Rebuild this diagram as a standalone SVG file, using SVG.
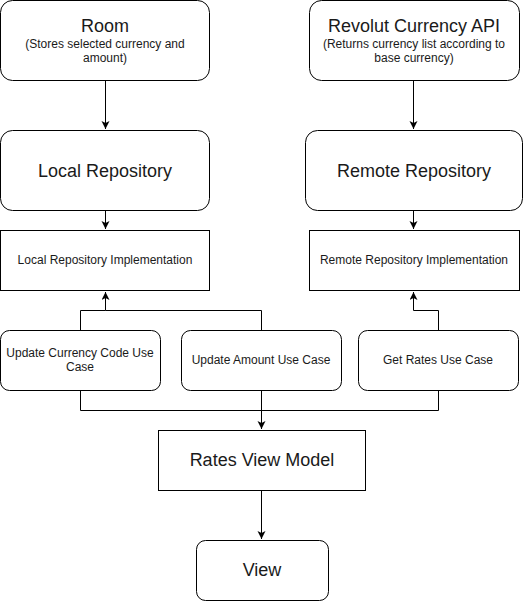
<svg xmlns="http://www.w3.org/2000/svg" width="525" height="602" viewBox="0 0 525 602">
<style>
.box{fill:#fff;stroke:#000;stroke-width:1}
.t{font-family:"Liberation Sans",Arial,sans-serif;fill:#1a1a1a;text-anchor:middle}
.big{font-size:18px}
.sm{font-size:12px}
.c{fill:none;stroke:#000;stroke-width:1}
</style>
<defs>
<marker id="ah" markerUnits="userSpaceOnUse" markerWidth="10" markerHeight="10" refX="8" refY="4" orient="auto">
<path d="M0,0 L8,4 L0,8 L2,4 z" fill="#000"/>
</marker>
</defs>
<rect width="525" height="602" fill="#fff"/>
<g id="connectors">
<path class="c" d="M105.5 80.5 V129" marker-end="url(#ah)"/>
<path class="c" d="M413.5 80.5 V129" marker-end="url(#ah)"/>
<path class="c" d="M105.5 210.5 V229" marker-end="url(#ah)"/>
<path class="c" d="M413.5 210.5 V229" marker-end="url(#ah)"/>
<path class="c" d="M80.5 330.5 V310.5 H105.5 V292" marker-end="url(#ah)"/>
<path class="c" d="M261.5 330.5 V310.5 H105.5"/>
<path class="c" d="M438.5 330.5 V310.5 H413.5 V292" marker-end="url(#ah)"/>
<path class="c" d="M80.5 390.5 V410.5 H261.5"/>
<path class="c" d="M438.5 390.5 V410.5 H261.5"/>
<path class="c" d="M261.5 390.5 V429" marker-end="url(#ah)"/>
<path class="c" d="M261.5 490.5 V539" marker-end="url(#ah)"/>
</g>
<g id="room">
<rect class="box" x="0.5" y="0.5" width="209" height="80" rx="12"/>
<text class="t big" x="105" y="32">Room</text>
<text class="t sm" x="105" y="48">(Stores selected currency and</text>
<text class="t sm" x="105" y="62">amount)</text>
</g>
<g id="revolut">
<rect class="box" x="309.5" y="0.5" width="210" height="80" rx="12"/>
<text class="t big" x="414" y="32">Revolut Currency API</text>
<text class="t sm" x="414" y="48">(Returns currency list according to</text>
<text class="t sm" x="414" y="62">base currency)</text>
</g>
<g id="local-repo">
<rect class="box" x="0.5" y="130.5" width="209" height="80" rx="12"/>
<text class="t big" x="105" y="177">Local Repository</text>
</g>
<g id="remote-repo">
<rect class="box" x="305.5" y="130.5" width="217" height="80" rx="12"/>
<text class="t big" x="414" y="177">Remote Repository</text>
</g>
<g id="local-impl">
<rect class="box" x="0.5" y="230.5" width="209" height="60"/>
<text class="t sm" x="105" y="264">Local Repository Implementation</text>
</g>
<g id="remote-impl">
<rect class="box" x="309.5" y="230.5" width="210" height="60"/>
<text class="t sm" x="414" y="264">Remote Repository Implementation</text>
</g>
<g id="update-currency">
<rect class="box" x="0.5" y="330.5" width="160" height="60" rx="9"/>
<text class="t sm" x="80" y="357">Update Currency Code Use</text>
<text class="t sm" x="80" y="371">Case</text>
</g>
<g id="update-amount">
<rect class="box" x="181.5" y="330.5" width="160" height="60" rx="9"/>
<text class="t sm" x="261" y="364">Update Amount Use Case</text>
</g>
<g id="get-rates">
<rect class="box" x="358.5" y="330.5" width="160" height="60" rx="9"/>
<text class="t sm" x="438" y="364">Get Rates Use Case</text>
</g>
<g id="rates-vm">
<rect class="box" x="158.5" y="430.5" width="207" height="60"/>
<text class="t big" x="262" y="466">Rates View Model</text>
</g>
<g id="view">
<rect class="box" x="196.5" y="540.5" width="132" height="60" rx="9"/>
<text class="t big" x="262" y="576">View</text>
</g>
</svg>
